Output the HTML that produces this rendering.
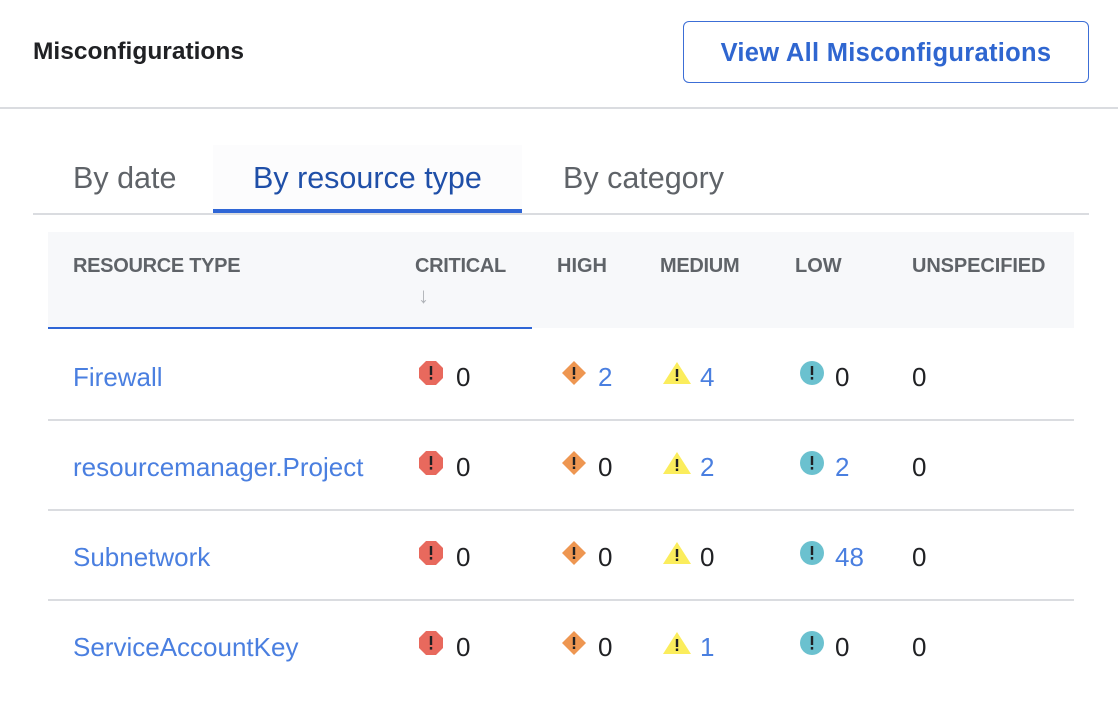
<!DOCTYPE html>
<html><head><meta charset="utf-8"><style>
*{margin:0;padding:0;box-sizing:border-box}
body{width:1118px;height:728px;background:#fff;font-family:"Liberation Sans",sans-serif;position:relative;overflow:hidden;color:#202124}
.a{position:absolute;white-space:nowrap}
.title{left:33px;top:38px;font-size:24.5px;font-weight:bold;color:#202124}
.btn{left:683px;top:21px;width:406px;height:62px;border:1.5px solid #3c6ed6;border-radius:6px;color:#2f66d0;font-size:25.5px;font-weight:bold;text-align:center;line-height:62px;letter-spacing:.3px}
.hr{left:0;top:107px;width:1118px;height:2px;background:#dadce0}
.tab{font-size:30.5px;top:161px;color:#5f6368}
.th{font-size:20px;color:#5f6368;top:255px;font-weight:bold}
.td{font-size:26px;color:#202124}
.lnk{color:#4a7fe0}
.row{left:48px;width:1026px;height:1.5px;background:#dadce0}
svg{position:absolute}
</style></head><body>
<div class="a title">Misconfigurations</div>
<div class="a btn">View All Misconfigurations</div>
<div class="a hr"></div>
<div class="a" style="left:213px;top:145px;width:309px;height:66px;background:#fcfcfd"></div>
<div class="a tab" style="left:73px">By date</div>
<div class="a tab" style="left:253px;color:#1f4fa8">By resource type</div>
<div class="a tab" style="left:563px">By category</div>
<div class="a" style="left:33px;top:213px;width:1056px;height:2px;background:#dadce0"></div>
<div class="a" style="left:213px;top:209px;width:309px;height:4px;background:#2f66d6"></div>
<div class="a" style="left:48px;top:232px;width:1026px;height:96px;background:#f7f8fa"></div>
<div class="a" style="left:48px;top:327px;width:484px;height:2px;background:#2f66d6"></div>
<div class="a th" style="left:73px;letter-spacing:-.3px">RESOURCE TYPE</div>
<div class="a th" style="left:415px;letter-spacing:-.3px">CRITICAL</div>
<div class="a th" style="left:418px;top:283px;color:#b0b3b8;font-size:22px;font-weight:normal">↓</div>
<div class="a th" style="left:557px">HIGH</div>
<div class="a th" style="left:660px;letter-spacing:-.3px">MEDIUM</div>
<div class="a th" style="left:795px">LOW</div>
<div class="a th" style="left:912px;letter-spacing:-.1px">UNSPECIFIED</div>
<div class="a row" style="top:419px"></div>
<div class="a row" style="top:509px"></div>
<div class="a row" style="top:599px"></div>
<svg width="0" height="0"><defs>
<g id="c"><polygon points="7,0 17,0 24,7 24,17 17,24 7,24 0,17 0,7" fill="#e8695d"/><rect x="10.8" y="5" width="2.4" height="9" fill="#202124"/><rect x="10.8" y="16" width="2.4" height="2.6" fill="#202124"/></g>
<g id="h"><polygon points="12,0 24,12 12,24 0,12" fill="#ee9651"/><rect x="10.8" y="6" width="2.4" height="8" fill="#202124"/><rect x="10.8" y="15.5" width="2.4" height="2.5" fill="#202124"/></g>
<g id="m"><polygon points="14,1 28,23 0,23" fill="#fbed5c"/><rect x="12.8" y="8" width="2.4" height="8" fill="#202124"/><rect x="12.8" y="17.5" width="2.4" height="2.5" fill="#202124"/></g>
<g id="l"><circle cx="12" cy="12" r="12" fill="#6bc1cf"/><rect x="10.8" y="5" width="2.4" height="9" fill="#202124"/><rect x="10.8" y="16" width="2.4" height="2.6" fill="#202124"/></g>
</defs></svg>
<svg width="1118" height="728" style="left:0;top:0">
<g transform="translate(419,361)"><use href="#c"/></g><g transform="translate(562,361)"><use href="#h"/></g><g transform="translate(663,361)"><use href="#m"/></g><g transform="translate(800,361)"><use href="#l"/></g>
<g transform="translate(419,451)"><use href="#c"/></g><g transform="translate(562,451)"><use href="#h"/></g><g transform="translate(663,451)"><use href="#m"/></g><g transform="translate(800,451)"><use href="#l"/></g>
<g transform="translate(419,541)"><use href="#c"/></g><g transform="translate(562,541)"><use href="#h"/></g><g transform="translate(663,541)"><use href="#m"/></g><g transform="translate(800,541)"><use href="#l"/></g>
<g transform="translate(419,631)"><use href="#c"/></g><g transform="translate(562,631)"><use href="#h"/></g><g transform="translate(663,631)"><use href="#m"/></g><g transform="translate(800,631)"><use href="#l"/></g>
</svg>
<div class="a td lnk" style="left:73px;top:362px">Firewall</div>
<div class="a td" style="left:456px;top:362px">0</div>
<div class="a td lnk" style="left:598px;top:362px">2</div>
<div class="a td lnk" style="left:700px;top:362px">4</div>
<div class="a td" style="left:835px;top:362px">0</div>
<div class="a td" style="left:912px;top:362px">0</div>
<div class="a td lnk" style="left:73px;top:452px">resourcemanager.Project</div>
<div class="a td" style="left:456px;top:452px">0</div>
<div class="a td" style="left:598px;top:452px">0</div>
<div class="a td lnk" style="left:700px;top:452px">2</div>
<div class="a td lnk" style="left:835px;top:452px">2</div>
<div class="a td" style="left:912px;top:452px">0</div>
<div class="a td lnk" style="left:73px;top:542px">Subnetwork</div>
<div class="a td" style="left:456px;top:542px">0</div>
<div class="a td" style="left:598px;top:542px">0</div>
<div class="a td" style="left:700px;top:542px">0</div>
<div class="a td lnk" style="left:835px;top:542px">48</div>
<div class="a td" style="left:912px;top:542px">0</div>
<div class="a td lnk" style="left:73px;top:632px">ServiceAccountKey</div>
<div class="a td" style="left:456px;top:632px">0</div>
<div class="a td" style="left:598px;top:632px">0</div>
<div class="a td lnk" style="left:700px;top:632px">1</div>
<div class="a td" style="left:835px;top:632px">0</div>
<div class="a td" style="left:912px;top:632px">0</div>
</body></html>
